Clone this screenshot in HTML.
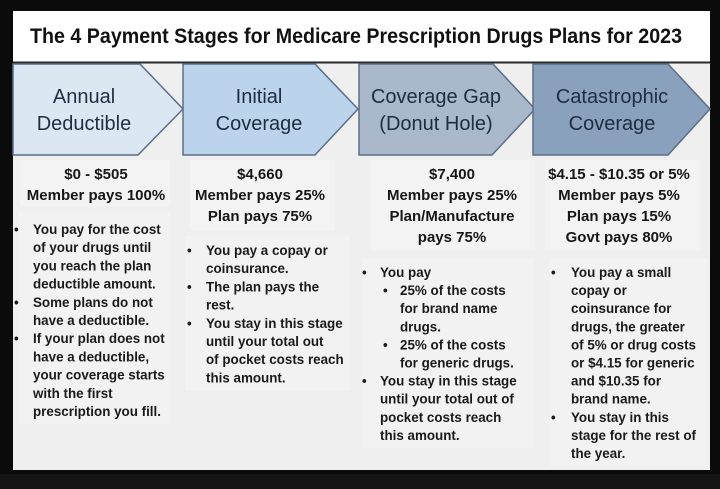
<!DOCTYPE html>
<html><head><meta charset="utf-8"><style>
html,body{margin:0;padding:0;background:#0b0b0b;}
svg{display:block;}
text{font-family:"Liberation Sans",sans-serif;}
.h{font-weight:bold;font-size:15px;fill:#161616;text-anchor:middle;}
.b{font-weight:bold;font-size:13.4px;fill:#1a1a1a;}
.a{font-size:20px;fill:#1e2d40;text-anchor:middle;}
</style></head><body>
<svg width="720" height="489" viewBox="0 0 720 489" xmlns="http://www.w3.org/2000/svg">
<rect x="0" y="0" width="720" height="489" fill="#0b0b0b"/>
<rect x="0" y="474" width="720" height="15" fill="#151515"/>
<rect x="13" y="11" width="697" height="459" fill="#efefef"/>
<!-- faint boxes -->
<rect x="20" y="160" width="150" height="46" fill="#f3f3f3"/>
<rect x="18" y="212" width="152" height="212" fill="#f2f2f2"/>
<rect x="190" y="160" width="145" height="70" fill="#f3f3f3"/>
<rect x="185" y="236" width="165" height="155" fill="#f2f2f2"/>
<rect x="370" y="160" width="165" height="90" fill="#f3f3f3"/>
<rect x="362" y="258" width="172" height="190" fill="#f2f2f2"/>
<rect x="545" y="160" width="155" height="90" fill="#f3f3f3"/>
<rect x="550" y="258" width="158" height="208" fill="#f2f2f2"/>
<!-- title -->
<rect x="13" y="11" width="697" height="51" fill="#ffffff"/>
<rect x="13" y="61.5" width="697" height="2" fill="#2a2a2a"/>
<text x="30" y="43" textLength="652" lengthAdjust="spacingAndGlyphs" style="font-weight:bold;font-size:21px;fill:#111;">The 4 Payment Stages for Medicare Prescription Drugs Plans for 2023</text>
<!-- arrows -->
<g stroke="#5b6e86" stroke-width="1.5">
<polygon points="13,64 140,64 183,109 138,155 13,155" fill="#dce7f4"/>
<polygon points="183,64 315,64 358,109 315,155 183,155" fill="#bcd3ec"/>
<polygon points="359,64 493,64 535,109 492,155 359,155" fill="#a9b8cb"/>
<polygon points="533,64 668,64 710,109 668,155 533,155" fill="#8aa1bd"/>
</g>
<text class="a" x="84" y="103">Annual</text>
<text class="a" x="84" y="130">Deductible</text>
<text class="a" x="259" y="103">Initial</text>
<text class="a" x="259" y="130">Coverage</text>
<text class="a" x="436" y="103">Coverage Gap</text>
<text class="a" x="436" y="130">(Donut Hole)</text>
<text class="a" x="612" y="103">Catastrophic</text>
<text class="a" x="612" y="130">Coverage</text>
<!-- headings -->
<text class="h" x="96" y="179">$0 - $505</text>
<text class="h" x="96" y="200">Member pays 100%</text>
<text class="h" x="260" y="179">$4,660</text>
<text class="h" x="260" y="200">Member pays 25%</text>
<text class="h" x="260" y="221">Plan pays 75%</text>
<text class="h" x="452" y="179">$7,400</text>
<text class="h" x="452" y="200">Member pays 25%</text>
<text class="h" x="452" y="221">Plan/Manufacture</text>
<text class="h" x="452" y="242">pays 75%</text>
<text class="h" x="619" y="179">$4.15 - $10.35 or 5%</text>
<text class="h" x="619" y="200">Member pays 5%</text>
<text class="h" x="619" y="221">Plan pays 15%</text>
<text class="h" x="619" y="242">Govt pays 80%</text>
<!-- col1 -->
<text class="b" x="14" y="234">•</text>
<text class="b" x="33" y="234">You pay for the cost</text>
<text class="b" x="33" y="252.2">of your drugs until</text>
<text class="b" x="33" y="270.4">you reach the plan</text>
<text class="b" x="33" y="288.6">deductible amount.</text>
<text class="b" x="14" y="306.8">•</text>
<text class="b" x="33" y="306.8">Some plans do not</text>
<text class="b" x="33" y="325">have a deductible.</text>
<text class="b" x="14" y="343.2">•</text>
<text class="b" x="33" y="343.2">If your plan does not</text>
<text class="b" x="33" y="361.4">have a deductible,</text>
<text class="b" x="33" y="379.6">your coverage starts</text>
<text class="b" x="33" y="397.8">with the first</text>
<text class="b" x="33" y="416">prescription you fill.</text>
<!-- col2 -->
<text class="b" x="187" y="255">•</text>
<text class="b" x="206" y="255">You pay a copay or</text>
<text class="b" x="206" y="273.2">coinsurance.</text>
<text class="b" x="187" y="291.4">•</text>
<text class="b" x="206" y="291.4">The plan pays the</text>
<text class="b" x="206" y="309.6">rest.</text>
<text class="b" x="187" y="327.8">•</text>
<text class="b" x="206" y="327.8">You stay in this stage</text>
<text class="b" x="206" y="346">until your total out</text>
<text class="b" x="206" y="364.2">of pocket costs reach</text>
<text class="b" x="206" y="382.4">this amount.</text>
<!-- col3 -->
<text class="b" x="362" y="277">•</text>
<text class="b" x="380" y="277">You pay</text>
<text class="b" x="383" y="295.1">•</text>
<text class="b" x="400" y="295.1">25% of the costs</text>
<text class="b" x="400" y="313.2">for brand name</text>
<text class="b" x="400" y="331.3">drugs.</text>
<text class="b" x="383" y="349.4">•</text>
<text class="b" x="400" y="349.4">25% of the costs</text>
<text class="b" x="400" y="367.5">for generic drugs.</text>
<text class="b" x="362" y="385.6">•</text>
<text class="b" x="380" y="385.6">You stay in this stage</text>
<text class="b" x="380" y="403.7">until your total out of</text>
<text class="b" x="380" y="421.8">pocket costs reach</text>
<text class="b" x="380" y="439.9">this amount.</text>
<!-- col4 -->
<text class="b" x="551" y="277">•</text>
<text class="b" x="571" y="277">You pay a small</text>
<text class="b" x="571" y="295.1">copay or</text>
<text class="b" x="571" y="313.2">coinsurance for</text>
<text class="b" x="571" y="331.3">drugs, the greater</text>
<text class="b" x="571" y="349.4">of 5% or drug costs</text>
<text class="b" x="571" y="367.5">or $4.15 for generic</text>
<text class="b" x="571" y="385.6">and $10.35 for</text>
<text class="b" x="571" y="403.7">brand name.</text>
<text class="b" x="551" y="421.8">•</text>
<text class="b" x="571" y="421.8">You stay in this</text>
<text class="b" x="571" y="439.9">stage for the rest of</text>
<text class="b" x="571" y="458">the year.</text>
</svg>
</body></html>
